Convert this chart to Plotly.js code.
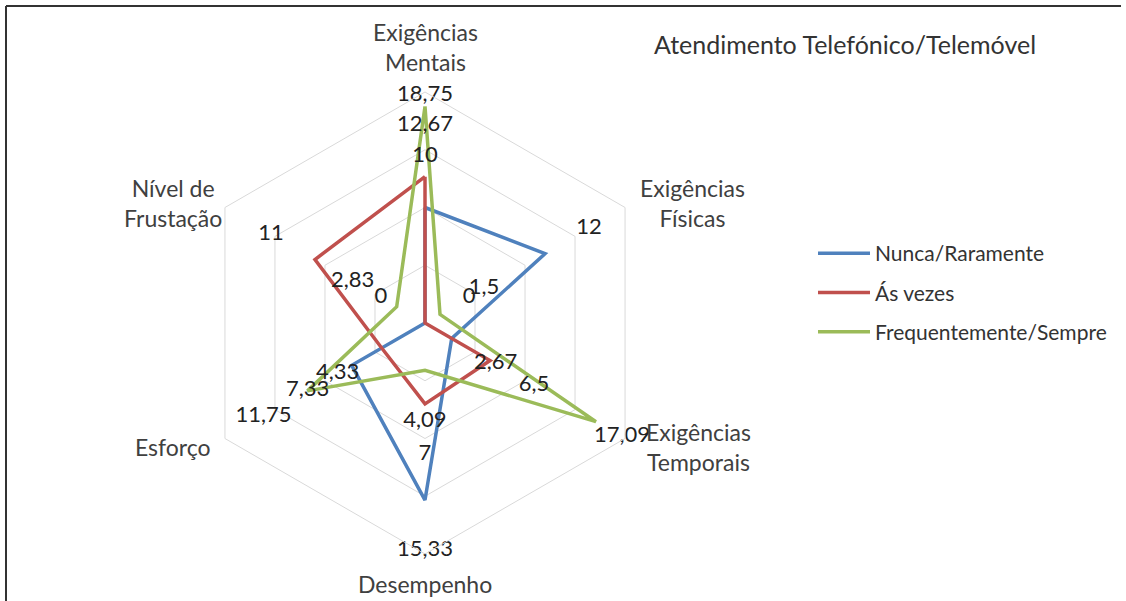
<!DOCTYPE html>
<html>
<head>
<meta charset="utf-8">
<script src="https://cdn.plot.ly/plotly-3.0.1.min.js"></script>
<style>
html,body{margin:0;padding:0;background:#fff;}
#chart{width:1126px;height:601px;}
</style>
</head>
<body>
<div id="chart"></div>
<script>
var categories = ["Exigências<br>Mentais", "Exigências<br>Físicas", "Exigências<br>Temporais", "Desempenho", "Esforço", "Nível de<br>Frustação"];
var seriesNames = ["Nunca/Raramente", "Ás vezes", "Frequentemente/Sempre"];
var nunca = [10, 12, 2.67, 15.33, 7.33, 0];
var asVezes = [12.67, 0, 6.5, 7, 4.33, 11];
var frequente = [18.75, 1.5, 17.09, 4.09, 11.75, 2.83];
var colors = ["#4F81BD", "#C0504D", "#9BBB59"];

var allSeries = [nunca, asVezes, frequente];
var FONT = "Lato, 'Open Sans', sans-serif";
var labelOffset = 4.4, labelMax = 19.7;

var traces = [];
allSeries.forEach(function (vals, i) {
  traces.push({
    type: "scatterpolar",
    mode: "lines",
    name: seriesNames[i],
    r: vals.concat([vals[0]]),
    theta: categories.concat([categories[0]]),
    line: {color: colors[i], width: 3.5},
    legendgroup: "g" + i,
    hoverinfo: "skip"
  });
});
allSeries.forEach(function (vals, i) {
  traces.push({
    type: "scatterpolar",
    mode: "text",
    r: vals.map(function (v) { return Math.min(v + labelOffset, labelMax); }),
    theta: categories,
    text: vals.map(function (v) { return String(v).replace(".", ","); }),
    textposition: "middle center",
    textfont: {family: FONT, size: 22, color: "#222"},
    cliponaxis: false,
    showlegend: false,
    hoverinfo: "skip"
  });
});

var R = 231, cx = 425, cy = 323, W = 1126, H = 601;

// pixel centres of the category captions (layout only)
var captionPos = [[425, 47], [692, 203], [698, 447], [425, 584], [173, 447], [173, 203]];
var annotations = categories.map(function (c, i) {
  return {
    text: c, xref: "paper", yref: "paper",
    x: captionPos[i][0] / W, y: 1 - captionPos[i][1] / H,
    xanchor: "center", yanchor: "middle", showarrow: false,
    font: {family: FONT, size: 23, color: "#404040"}
  };
});

var layout = {
  width: W, height: H,
  margin: {l: 0, r: 0, t: 0, b: 0},
  paper_bgcolor: "#fff",
  font: {family: FONT, color: "#404040"},
  title: {
    text: "Atendimento Telefónico/Telemóvel",
    font: {family: FONT, size: 25, color: "#333"},
    x: 845 / W, xanchor: "center", xref: "paper",
    y: 1 - 45 / H, yanchor: "middle", yref: "container"
  },
  showlegend: true,
  legend: {
    x: 813 / W, y: 1 - 233 / H, xanchor: "left", yanchor: "top",
    font: {family: FONT, size: 21, color: "#333"},
    tracegroupgap: 9,
    traceorder: "grouped",
    itemwidth: 52,
    bgcolor: "rgba(0,0,0,0)"
  },
  annotations: annotations,
  polar: {
    domain: {x: [(cx - R) / W, (cx + R) / W], y: [(H - cy - R) / H, (H - cy + R) / H]},
    gridshape: "linear",
    bgcolor: "#fff",
    radialaxis: {
      range: [0, 20], dtick: 5, showticklabels: false, ticks: "",
      showline: false, gridcolor: "#d9d9d9", gridwidth: 1
    },
    angularaxis: {
      type: "category", categoryarray: categories,
      rotation: 90, direction: "clockwise",
      showgrid: false, showline: true, linecolor: "#d9d9d9", linewidth: 1,
      ticks: "", showticklabels: false
    }
  },
  shapes: [
    {type: "line", xref: "paper", yref: "paper", x0: 6 / W, x1: 1121 / W, y0: 1 - 6 / H, y1: 1 - 6 / H, line: {color: "#333", width: 2}},
    {type: "line", xref: "paper", yref: "paper", x0: 6 / W, x1: 6 / W, y0: 0, y1: 1 - 6 / H, line: {color: "#333", width: 2}}
  ]
};

Plotly.newPlot("chart", traces, layout, {displayModeBar: false, staticPlot: true});
</script>
</body>
</html>
